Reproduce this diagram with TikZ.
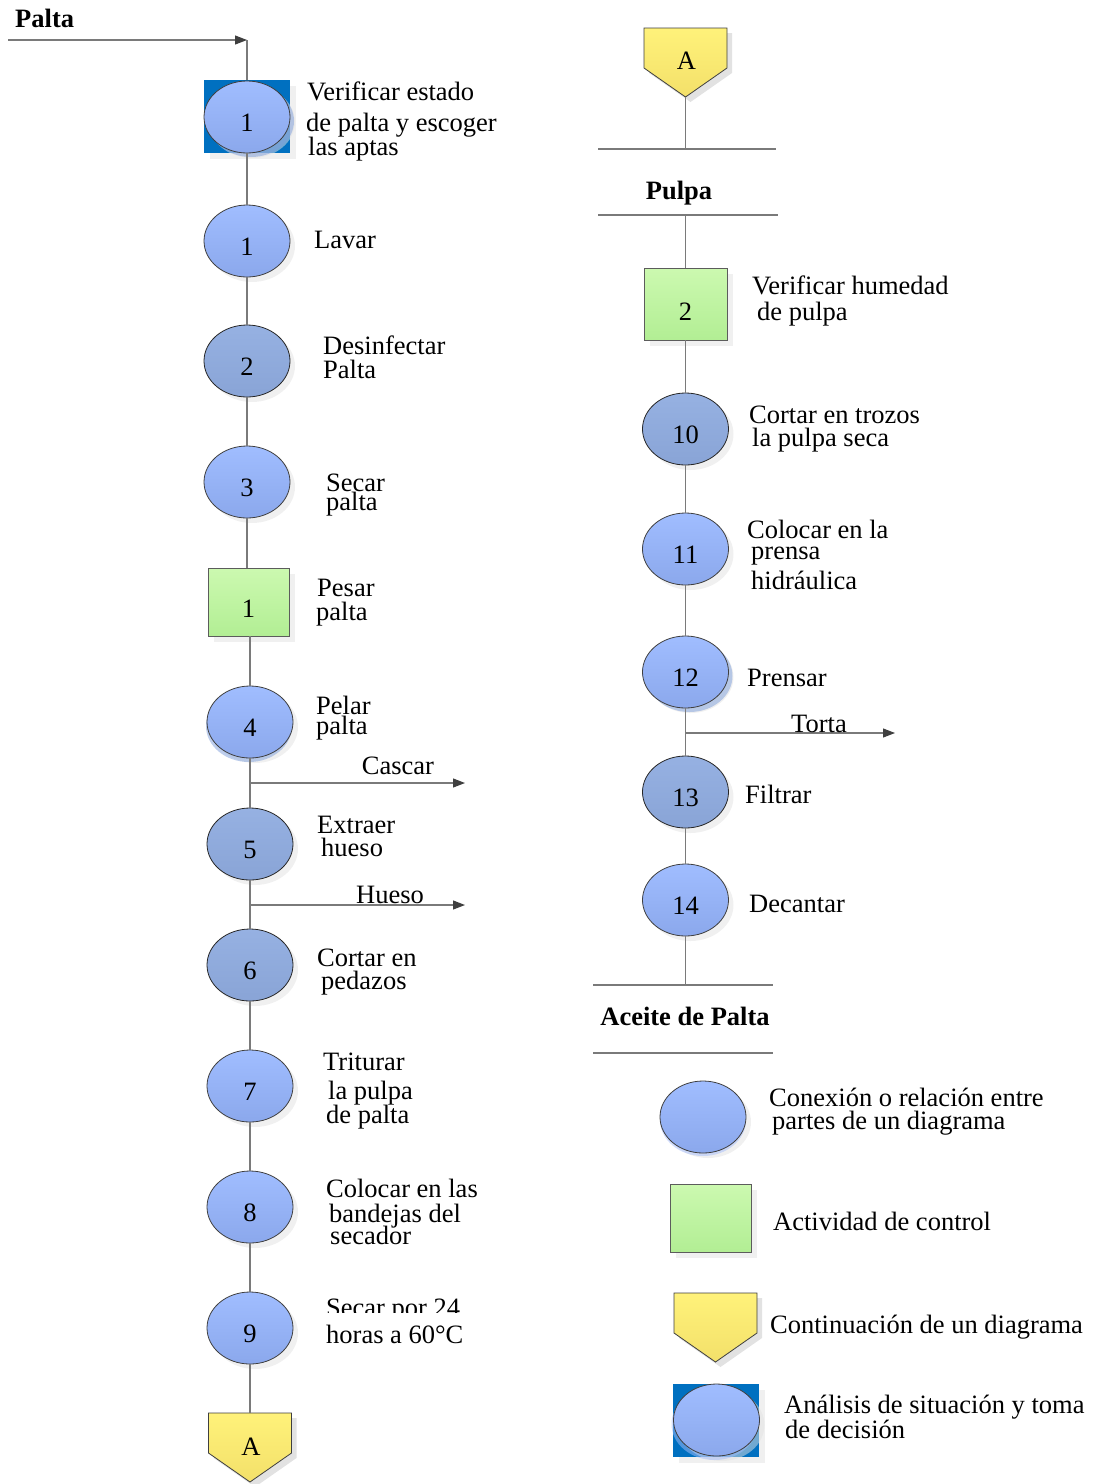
\documentclass[tikz,border=0pt]{standalone}
\usepackage{fontspec}
\setmainfont{Liberation Serif}
\usetikzlibrary{shapes.geometric,shadows,arrows.meta}

\definecolor{lineg}{HTML}{7A7A7A}
\definecolor{edge}{HTML}{3F3F3F}
\definecolor{bluetop}{HTML}{A0BDFF}
\definecolor{bluebot}{HTML}{8BA8EC}
\definecolor{darktop}{HTML}{96B1E2}
\definecolor{darkbot}{HTML}{89A4D6}
\definecolor{greentop}{HTML}{CCF9B0}
\definecolor{greenbot}{HTML}{B2EE94}
\definecolor{ylwtop}{HTML}{FFF27A}
\definecolor{ylwbot}{HTML}{F3E06A}
\definecolor{deep}{HTML}{0070C0}
\definecolor{shadegray}{HTML}{E2E2E2}
\definecolor{blushade}{HTML}{7D9EDB}
\definecolor{paleblue}{HTML}{A4BCFA}

% off-page connector: centre x, top y, name
\newcommand\offpage[3]{%
  \fill[shadegray] ({#1-41.5+5},{#2+5}) -- ++(83,0) -- ++(0,40) -- ({#1+5},{#2+69+5}) -- ({#1-41.5+5},{#2+45}) -- cycle;
  \path[draw=edge, line width=0.8pt, top color=ylwtop, bottom color=ylwbot]
    ({#1-41.5},#2) -- ++(83,0) -- ++(0,40) -- (#1,{#2+69}) -- ({#1-41.5},{#2+40}) -- cycle;
  \coordinate (#3-top) at (#1,#2);
  \coordinate (#3-tip) at (#1,{#2+69});
}

\begin{document}
\begin{tikzpicture}[x=1pt,y=-1pt,
  every node/.style={font=\fontsize{26.5}{27}\selectfont, inner sep=0pt},
  conn/.style={draw=lineg, line width=1.1pt},
  arr/.style={conn, -{Triangle[length=12pt,width=9pt,color=edge]}},
  bar/.style={draw=lineg, line width=1.3pt},
  oper/.style={ellipse, draw=edge, line width=0.8pt, minimum width=86pt, minimum height=72pt,
    top color=bluetop, bottom color=bluebot, text height=29.5pt, text depth=0pt,
    drop shadow={shadow xshift=5pt, shadow yshift=-5pt, fill=shadegray}},
  opdark/.style={oper, draw=black!85, top color=darktop, bottom color=darkbot},
  opblue/.style={oper, drop shadow={shadow xshift=4pt, shadow yshift=-4pt, fill=blushade}},
  ctrl/.style={rectangle, draw=edge!85, line width=0.8pt, minimum width=81pt, minimum height=68pt,
    top color=greentop, bottom color=greenbot, text height=31pt, text depth=0pt,
    drop shadow={shadow xshift=6pt, shadow yshift=-6pt, fill=shadegray}},
  decbox/.style={rectangle, fill=deep, minimum width=86pt, minimum height=73pt,
    drop shadow={shadow xshift=6pt, shadow yshift=-6pt, fill=shadegray}},
  txt/.style={anchor=base west},
  ctxt/.style={anchor=base},
  ttl/.style={anchor=base, font=\bfseries\fontsize{26.5}{27}\selectfont},
]
\useasboundingbox (0,0) rectangle (1094,1484);

% ---------------- left column ----------------
\node[ttl, anchor=base west] (palta) at (15,27) {Palta};
\coordinate (pstart) at (8,40);
\coordinate (ptop) at (247,40);

\node[decbox] (d1box) at (247,116.5) {};
\node[opblue] (d1) at (247,117) {1};
\node[oper] (c1) at (247,241) {1};
\node[opdark] (c2) at (247,361) {2};
\node[oper] (c3) at (247,482) {3};
\node[ctrl] (s1) at (248.5,602) {1};
\node[oper, drop shadow={shadow xshift=-1pt, shadow yshift=-4pt, fill=blushade}] (c4) at (250,722) {4};
\node[opdark] (c5) at (250,844) {5};
\node[opdark] (c6) at (250,965) {6};
\node[oper] (c7) at (250,1086) {7};
\node[oper] (c8) at (250,1207) {8};
\node[oper] (c9) at (250,1328) {9};
\offpage{250}{1413}{pA}
\node (pAtxt) at (251,1447) {A};

\coordinate (br1) at (250,783);
\coordinate (e1) at (465,783);
\coordinate (br2) at (250,905);
\coordinate (e2) at (465,905);

\draw[arr] (pstart) -- (ptop);
\draw[conn] (ptop) -- (d1box.north);
\draw[conn] (d1box.south) -- (c1.north);
\draw[conn] (c1.south) -- (c2.north);
\draw[conn] (c2.south) -- (c3.north);
\draw[conn] (c3.south) -- (c3.south |- s1.north);
\draw[conn] (s1.south -| c4.north) -- (c4.north);
\draw[conn] (c4.south) -- (c5.north);
\draw[conn] (c5.south) -- (c6.north);
\draw[conn] (c6.south) -- (c7.north);
\draw[conn] (c7.south) -- (c8.north);
\draw[conn] (c8.south) -- (c9.north);
\draw[conn] (c9.south) -- (pA-top);
\draw[arr] (br1) -- (e1);
\draw[arr] (br2) -- (e2);

\node[txt] (t0a) at (307,100) {Verificar estado};
\node[txt] (t0b) at (306,131) {de palta y escoger};
\node[txt] (t0c) at (308,155) {las aptas};
\node[txt] (t1) at (314,248) {Lavar};
\node[txt] (t2a) at (323,354) {Desinfectar};
\node[txt] (t2b) at (323,378) {Palta};
\node[txt] (t3a) at (326,491) {Secar};
\node[txt] (t3b) at (326,510) {palta};
\node[txt] (t4a) at (317,596) {Pesar};
\node[txt] (t4b) at (316,620) {palta};
\node[txt] (t5a) at (316,714) {Pelar};
\node[txt] (t5b) at (316,734) {palta};
\node[ctxt] (lcasc) at (398,774) {Cascar};
\node[txt] (t6a) at (317,833) {Extraer};
\node[txt] (t6b) at (321,856) {hueso};
\node[ctxt] (lhue) at (390,903) {Hueso};
\node[txt] (t7a) at (317,966) {Cortar en};
\node[txt] (t7b) at (321,989) {pedazos};
\node[txt] (t8a) at (323,1070) {Triturar};
\node[txt] (t8b) at (328,1099) {la pulpa};
\node[txt] (t8c) at (326,1123) {de palta};
\node[txt] (t9a) at (326,1197) {Colocar en las};
\node[txt] (t9b) at (329,1222) {bandejas del};
\node[txt] (t9c) at (330,1244) {secador};
\begin{scope}
  \clip (300,1280) rectangle (520,1312);
  \node[txt] (t10a) at (326,1316) {Secar por 24};
\end{scope}
\node[txt] (t10b) at (326,1343) {horas a 60°C};

% ---------------- right column ----------------
\offpage{685.5}{28}{pB}
\node (pBtxt) at (686.5,61) {A};
\coordinate (bar1l) at (598,149);
\coordinate (bar1r) at (776,149);
\coordinate (bar1c) at (685.5,149);
\node[ttl] (pulpa) at (679,199) {Pulpa};
\coordinate (bar2l) at (598,215);
\coordinate (bar2r) at (778,215);
\coordinate (bar2c) at (685.5,215);

\node[ctrl, minimum width=83pt, minimum height=72pt, text height=33pt] (s2) at (685.5,304) {2};
\node[opdark] (c10) at (685.5,429) {10};
\node[oper] (c11) at (685.5,549) {11};
\node[opblue] (c12) at (685.5,672) {12};
\node[opdark] (c13) at (685.5,792) {13};
\node[oper] (c14) at (685.5,900) {14};

\coordinate (br3) at (685.5,733);
\coordinate (e3) at (895,733);
\coordinate (bar3l) at (593,985);
\coordinate (bar3r) at (773,985);
\coordinate (bar3c) at (685.5,985);
\node[ttl] (aceite) at (685,1025) {Aceite de Palta};
\coordinate (bar4l) at (593,1053);
\coordinate (bar4r) at (773,1053);

\draw[conn] (pB-tip) -- (bar1c);
\draw[bar] (bar1l) -- (bar1r);
\draw[bar] (bar2l) -- (bar2r);
\draw[conn] (bar2c) -- (s2.north);
\draw[conn] (s2.south) -- (c10.north);
\draw[conn] (c10.south) -- (c11.north);
\draw[conn] (c11.south) -- (c12.north);
\draw[conn] (c12.south) -- (c13.north);
\draw[conn] (c13.south) -- (c14.north);
\draw[conn] (c14.south) -- (bar3c);
\draw[arr] (br3) -- (e3);
\draw[bar] (bar3l) -- (bar3r);
\draw[bar] (bar4l) -- (bar4r);

\node[txt] (r1a) at (752,294) {Verificar humedad};
\node[txt] (r1b) at (757,320) {de pulpa};
\node[txt] (r2a) at (749,423) {Cortar en trozos};
\node[txt] (r2b) at (752,446) {la pulpa seca};
\node[txt] (r3a) at (747,538) {Colocar en la};
\node[txt] (r3b) at (751,559) {prensa};
\node[txt] (r3c) at (751,589) {hidráulica};
\node[txt] (r4) at (747,686) {Prensar};
\node[ctxt] (ltor) at (819,732) {Torta};
\node[txt] (r5) at (745,803) {Filtrar};
\node[txt] (r6) at (749,912) {Decantar};

% ---------------- legend ----------------
\node[oper, drop shadow={shadow xshift=0pt, shadow yshift=-3pt, fill=paleblue}] (lc) at (703,1117) {};
\node[txt] (lct1) at (769,1106) {Conexión o relación entre};
\node[txt] (lct2) at (772,1129) {partes de un diagrama};
\node[ctrl, drop shadow={opacity=0}] (ls) at (710.5,1218) {};
\node[txt] (lst) at (773,1230) {Actividad de control};
\offpage{715.5}{1293}{lp}
\node[txt] (lpt) at (770,1333) {Continuación de un diagrama};
\node[decbox, drop shadow={opacity=0}] (ldbox) at (715.5,1420.5) {};
\node[oper, drop shadow={shadow xshift=-2pt, shadow yshift=-4pt, fill=paleblue}] (ld) at (716.5,1420) {};
\node[txt] (ldt1) at (784,1413) {Análisis de situación y toma};
\node[txt] (ldt2) at (785,1438) {de decisión};
\end{tikzpicture}
\end{document}
